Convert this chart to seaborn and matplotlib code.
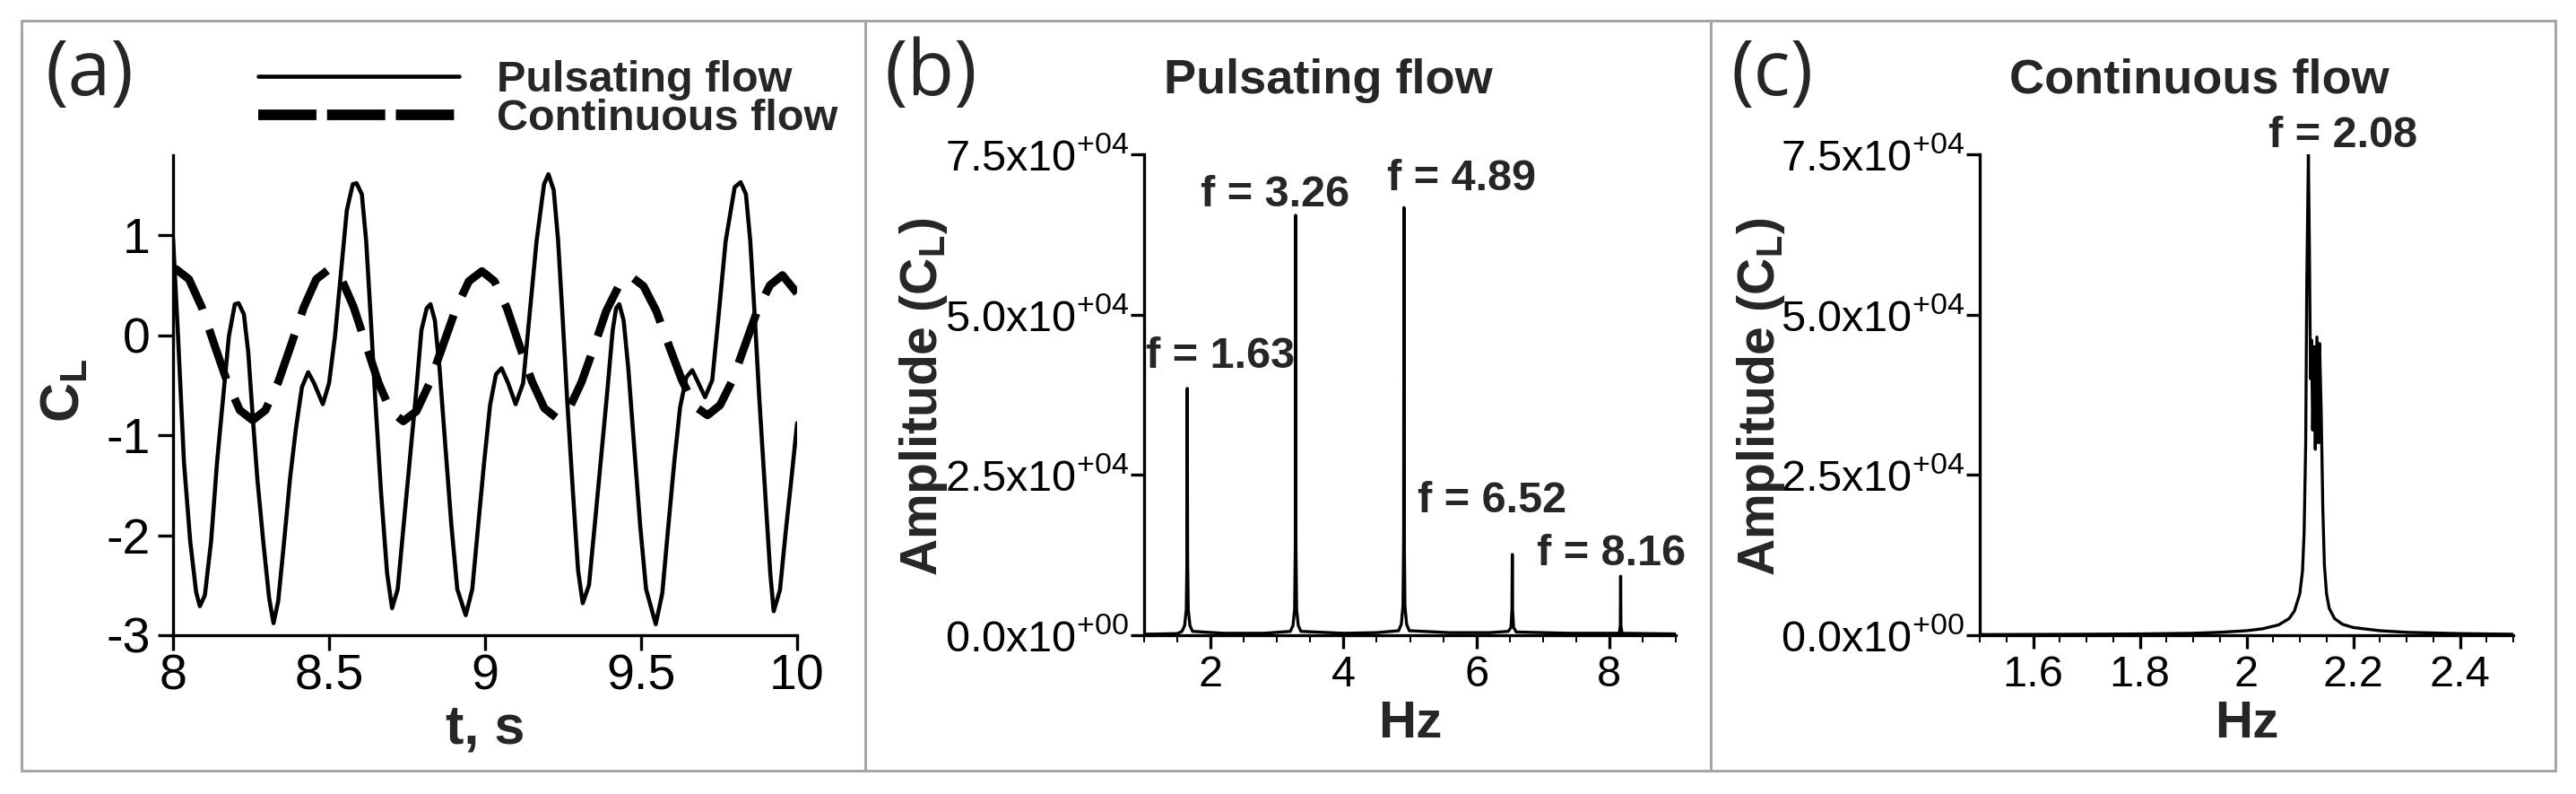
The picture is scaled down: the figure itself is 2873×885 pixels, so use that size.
import numpy as np
import matplotlib
matplotlib.use("Agg")
import matplotlib.pyplot as plt
import seaborn as sns
from matplotlib.lines import Line2D
from matplotlib.ticker import FixedLocator, MultipleLocator

# ---------------- data ----------------
# panel (a): lift coefficient time histories
t_pulse = [8.000, 8.016, 8.035, 8.055, 8.074, 8.086, 8.102, 8.122, 8.141, 8.160,
           8.179, 8.198, 8.210, 8.227, 8.241, 8.255, 8.270, 8.289, 8.308, 8.322,
           8.337, 8.356, 8.375, 8.394, 8.413, 8.433, 8.452, 8.480, 8.500, 8.519,
           8.538, 8.557, 8.576, 8.588, 8.605, 8.619, 8.634, 8.648, 8.667, 8.686,
           8.702, 8.720, 8.739, 8.758, 8.777, 8.796, 8.813, 8.825, 8.839, 8.854,
           8.873, 8.892, 8.911, 8.938, 8.959, 8.978, 8.997, 9.016, 9.035, 9.053,
           9.074, 9.098, 9.122, 9.141, 9.165, 9.189, 9.203, 9.220, 9.234, 9.249,
           9.263, 9.282, 9.298, 9.313, 9.333, 9.352, 9.371, 9.390, 9.409, 9.420,
           9.430, 9.444, 9.459, 9.478, 9.497, 9.516, 9.547, 9.568, 9.587, 9.606,
           9.625, 9.645, 9.664, 9.684, 9.705, 9.728, 9.747, 9.771, 9.800, 9.819,
           9.836, 9.850, 9.865, 9.879, 9.898, 9.914, 9.925, 9.945, 9.964, 9.983,
           10.000]
cl_pulse = [0.97, -0.01, -1.27, -2.06, -2.57, -2.71, -2.60, -2.06, -1.27, -0.64,
            -0.01, 0.31, 0.32, 0.21, -0.17, -0.80, -1.43, -2.06, -2.63, -2.88,
            -2.66, -2.06, -1.43, -0.93, -0.52, -0.37, -0.48, -0.69, -0.48, -0.01,
            0.62, 1.25, 1.51, 1.52, 1.41, 0.94, 0.15, -0.64, -1.59, -2.38,
            -2.73, -2.54, -1.90, -1.27, -0.64, 0.05, 0.27, 0.31, 0.15, -0.33,
            -1.12, -1.90, -2.54, -2.80, -2.54, -1.90, -1.27, -0.70, -0.39, -0.33,
            -0.48, -0.69, -0.48, 0.15, 0.94, 1.51, 1.61, 1.45, 0.95, 0.15,
            -0.64, -1.59, -2.35, -2.68, -2.50, -1.88, -1.25, -0.62, 0.05, 0.27,
            0.31, 0.15, -0.33, -1.12, -1.90, -2.54, -2.89, -2.58, -1.92, -1.28,
            -0.72, -0.42, -0.35, -0.48, -0.62, -0.45, 0.15, 0.94, 1.48, 1.53,
            1.41, 0.94, 0.15, -0.64, -1.59, -2.38, -2.76, -2.55, -1.95, -1.40,
            -0.88]
t_cont = [8.000, 8.010, 8.051, 8.092, 8.133, 8.174, 8.214, 8.255, 8.296, 8.337,
          8.378, 8.419, 8.459, 8.500, 8.540, 8.579, 8.619, 8.659, 8.698, 8.738,
          8.780, 8.822, 8.864, 8.906, 8.948, 8.990, 9.030, 9.070, 9.110, 9.150,
          9.190, 9.230, 9.270, 9.309, 9.349, 9.388, 9.428, 9.467, 9.508, 9.549,
          9.590, 9.631, 9.672, 9.713, 9.753, 9.793, 9.833, 9.873, 9.913, 9.953,
          10.000]
cl_cont = [0.65, 0.66, 0.56, 0.28, -0.10, -0.47, -0.75, -0.85, -0.75, -0.47,
           -0.10, 0.28, 0.56, 0.66, 0.56, 0.28, -0.10, -0.48, -0.76, -0.86,
           -0.76, -0.48, -0.11, 0.26, 0.54, 0.64, 0.54, 0.27, -0.10, -0.46,
           -0.73, -0.83, -0.73, -0.47, -0.12, 0.24, 0.49, 0.59, 0.49, 0.24,
           -0.11, -0.45, -0.71, -0.80, -0.70, -0.45, -0.10, 0.25, 0.50, 0.60,
           0.42]
series_labels = ["Pulsating flow", "Continuous flow"]
t_ticks = [8, 8.5, 9, 9.5, 10]
t_tick_labels = ["8", "8.5", "9", "9.5", "10"]
cl_ticks = [-3, -2, -1, 0, 1]
cl_tick_labels = ["-3", "-2", "-1", "0", "1"]

# panel (b): spectrum, pulsating flow
freq_pulse = [1.00, 1.50, 1.57, 1.61, 1.635, 1.645, 1.650, 1.655, 1.665, 1.69,
              1.73, 2.20, 2.80, 3.20, 3.24, 3.265, 3.275, 3.280, 3.285, 3.295,
              3.32, 3.36, 4.00, 4.50, 4.83, 4.87, 4.895, 4.905, 4.910, 4.915,
              4.925, 4.95, 4.99, 5.60, 6.20, 6.48, 6.52, 6.535, 6.540, 6.545,
              6.56, 6.60, 7.40, 8.15, 8.165, 8.170, 8.175, 8.19, 9.00]
amp_pulse = [150, 250, 600, 1500, 4000, 12000, 38500, 12000, 4000, 1500,
             600, 300, 300, 600, 1500, 4000, 14000, 65500, 14000, 4000,
             1500, 600, 300, 400, 700, 1700, 4500, 15000, 66700, 15000,
             4500, 1700, 700, 400, 400, 600, 1200, 4000, 12600, 4000,
             1200, 500, 300, 300, 1500, 9200, 1500, 300, 200]
pulse_peak_labels = ["f = 1.63", "f = 3.26", "f = 4.89", "f = 6.52", "f = 8.16"]
pulse_hz_ticks = [2, 4, 6, 8]
pulse_hz_tick_labels = ["2", "4", "6", "8"]

# panel (c): spectrum, continuous flow
freq_cont = [1.50, 1.60, 1.70, 1.80, 1.90, 1.95, 2.00, 2.03, 2.06, 2.08,
             2.09, 2.10, 2.105, 2.108, 2.111, 2.113, 2.116, 2.118, 2.120, 2.122,
             2.124, 2.127, 2.129, 2.132, 2.135, 2.137, 2.140, 2.143, 2.146, 2.150,
             2.155, 2.165, 2.18, 2.20, 2.25, 2.30, 2.40, 2.50]
amp_cont = [100, 120, 150, 200, 300, 450, 700, 1000, 1600, 2600,
            3800, 6500, 10000, 16000, 30000, 55000, 75000, 60000, 40000, 46000,
            32000, 45000, 29000, 46500, 30000, 45500, 35000, 20000, 11000, 6500,
            4200, 2600, 1700, 1200, 700, 450, 250, 150]
cont_peak_labels = ["f = 2.08"]
cont_hz_ticks = [1.6, 1.8, 2.0, 2.2, 2.4]
cont_hz_tick_labels = ["1.6", "1.8", "2", "2.2", "2.4"]

amp_ticks = [0, 25000, 50000, 75000]
amp_tick_labels = ["0.0x10$^{+00}$", "2.5x10$^{+04}$", "5.0x10$^{+04}$", "7.5x10$^{+04}$"]

# ---------------- layout / style ----------------
W, H = 2873, 885
sns.set_style("ticks")
plt.rcParams["font.family"] = ["Liberation Sans", "DejaVu Sans"]
plt.rcParams["mathtext.fontset"] = "custom"
plt.rcParams["mathtext.rm"] = "Liberation Sans"
plt.rcParams["mathtext.bf"] = "Liberation Sans:bold"
plt.rcParams["mathtext.default"] = "regular"

fig = plt.figure(figsize=(W / 100, H / 100), dpi=100)
fig.patch.set_facecolor("white")

def px_axes(x0, x1, ytop, ybot):
    return fig.add_axes([x0 / W, 1 - ybot / H, (x1 - x0) / W, (ybot - ytop) / H])

axA = px_axes(193, 889, 173, 708)
axB = px_axes(1276, 1869, 172, 708)
axC = px_axes(2208, 2803, 172, 708)

SPW = 2.4
for ax in (axA, axB, axC):
    ax.set_facecolor("white")
    for s in ("top", "right"):
        ax.spines[s].set_visible(False)
    for s in ("left", "bottom"):
        ax.spines[s].set_linewidth(SPW)
        ax.spines[s].set_color("black")

# ---- panel (a)
sns.lineplot(x=np.array(t_cont), y=np.array(cl_cont), ax=axA, color="black",
             linewidth=6.5, estimator=None, sort=False, linestyle=(0, (6.5, 2.6)))
sns.lineplot(x=np.array(t_pulse), y=np.array(cl_pulse), ax=axA, color="black",
             linewidth=3.3, estimator=None, sort=False)
axA.set_xlim(8, 10)
axA.set_ylim(-3, 1.8)
axA.xaxis.set_major_locator(FixedLocator(t_ticks))
axA.set_xticklabels(t_tick_labels)
axA.yaxis.set_major_locator(FixedLocator(cl_ticks))
axA.set_yticklabels(cl_tick_labels)
axA.tick_params(axis="x", direction="out", length=12, width=SPW, labelsize=40, pad=3, colors="black")
axA.tick_params(axis="y", direction="out", length=12, width=SPW, labelsize=40, pad=6, colors="black")
axA.set_xlabel("t, s", fontsize=44, fontweight="bold", va="center")
axA.xaxis.set_label_coords(0.5, -0.196)
axA.set_ylabel(r"C$_{\mathbf{L}}$", fontsize=44, fontweight="bold", va="center")
axA.yaxis.set_label_coords(-0.172, 0.51)

handles = [Line2D([], [], color="black", lw=3.3),
           Line2D([], [], color="black", lw=8.5, linestyle=(0, (5.5, 1.0)))]
axA.legend(handles, series_labels, loc="upper left",
           bbox_to_anchor=(288 / W, 1 - 67 / H), bbox_transform=fig.transFigure,
           frameon=False, handlelength=4.6, handletextpad=0.88, borderpad=0,
           borderaxespad=0, labelspacing=-0.05,
           prop={"weight": "bold", "size": 35})

# ---- panel (b)
sns.lineplot(x=np.array(freq_pulse), y=np.array(amp_pulse), ax=axB, color="black",
             linewidth=2.4, estimator=None, sort=False)
axB.set_xlim(1, 9)
axB.set_ylim(0, 75000)
axB.xaxis.set_major_locator(FixedLocator(pulse_hz_ticks))
axB.set_xticklabels(pulse_hz_tick_labels)
axB.xaxis.set_minor_locator(MultipleLocator(0.5))
pulse_annot_xy = [(2.15, 43400), (2.97, 68700), (5.78, 71200), (6.23, 20850), (8.03, 12600)]
for lab, (xx, yy) in zip(pulse_peak_labels, pulse_annot_xy):
    axB.text(xx, yy, lab, ha="center", va="center", fontsize=35, fontweight="bold",
             clip_on=False)

# ---- panel (c)
sns.lineplot(x=np.array(freq_cont), y=np.array(amp_cont), ax=axC, color="black",
             linewidth=2.4, estimator=None, sort=False)
axC.set_xlim(1.5, 2.5)
axC.set_ylim(0, 75000)
axC.xaxis.set_major_locator(FixedLocator(cont_hz_ticks))
axC.set_xticklabels(cont_hz_tick_labels)
axC.xaxis.set_minor_locator(MultipleLocator(0.05))
cont_annot_xy = [(2.181, 77800)]
for lab, (xx, yy) in zip(cont_peak_labels, cont_annot_xy):
    axC.text(xx, yy, lab, ha="center", va="center", fontsize=35, fontweight="bold",
             clip_on=False)

for ax, ylab_x in ((axB, -0.415), (axC, -0.41)):
    ax.yaxis.set_major_locator(FixedLocator(amp_ticks))
    ax.set_yticklabels(amp_tick_labels)
    ax.tick_params(axis="y", direction="out", length=11, width=SPW, labelsize=35, pad=1.5, colors="black")
    ax.tick_params(axis="x", which="major", direction="out", length=11, width=SPW, labelsize=35, pad=5, colors="black")
    ax.tick_params(axis="x", which="minor", direction="out", length=6, width=1.4, colors="black")
    ax.set_xlabel("Hz", fontsize=42, fontweight="bold", va="center")
    ax.xaxis.set_label_coords(0.5, -0.185)
    ax.set_ylabel(r"Amplitude (C$_{\mathbf{L}}$)", fontsize=41, fontweight="bold", va="center")
    ax.yaxis.set_label_coords(ylab_x, 0.496)

# panel titles and labels
fig.text(1481 / W, 1 - 90 / H, "Pulsating flow", ha="center", va="center", fontsize=39, fontweight="bold")
fig.text(2453 / W, 1 - 89 / H, "Continuous flow", ha="center", va="center", fontsize=39, fontweight="bold")
for lab, xpx in (("(a)", 50), ("(b)", 987), ("(c)", 1930)):
    fig.text(xpx / W, 1 - 84 / H, lab, ha="left", va="center", fontsize=62,
             family=["Open Sans", "DejaVu Sans"])

# panel frames
frame_col = "#a6a6a6"
def fline(x0, y0, x1, y1):
    fig.add_artist(Line2D([x0 / W, x1 / W], [1 - y0 / H, 1 - y1 / H],
                          transform=fig.transFigure, color=frame_col, lw=2.2))
fline(24, 23, 2850, 23)
fline(24, 859, 2850, 859)
fline(24, 23, 24, 859)
fline(2850, 23, 2850, 859)
fline(965, 23, 965, 859)
fline(1908, 23, 1908, 859)

fig.savefig("out.png", dpi=100, facecolor="white")
